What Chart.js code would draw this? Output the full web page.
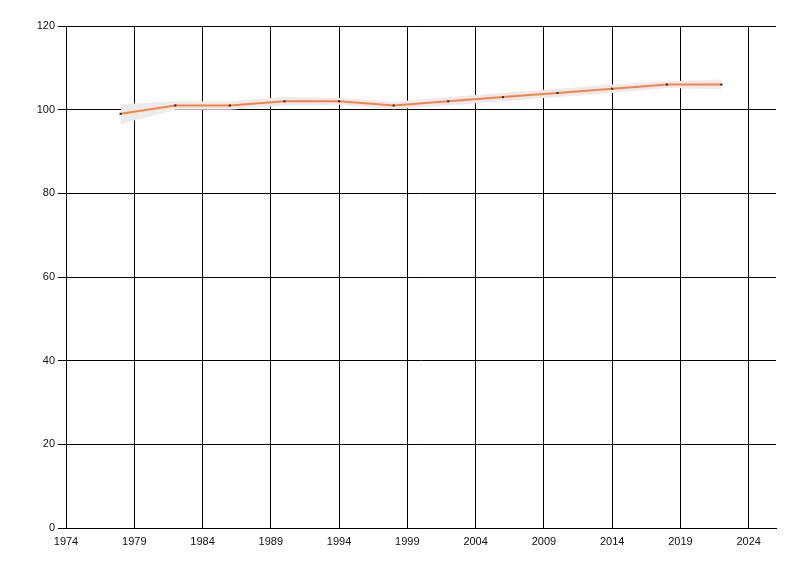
<!DOCTYPE html>
<html>
<head>
<meta charset="utf-8">
<script src="https://cdn.jsdelivr.net/npm/chart.js@4/dist/chart.umd.min.js"></script>
<style>
html,body{margin:0;padding:0;background:#fff;}
canvas{display:block;}
</style>
</head>
<body>
<canvas id="c" width="800" height="576"></canvas>
<script>
const years = [1978, 1982, 1986, 1990, 1994, 1998, 2002, 2006, 2010, 2014, 2018, 2022];
const values = [99, 101, 101, 102, 102, 101, 102, 103, 104, 105, 106, 106];
const upper = [101.3, 102.0, 102.0, 103.0, 102.8, 101.9, 103.0, 104.0, 105.0, 106.0, 106.8, 107.2];
const lower = [96.6, 100.0, 100.0, 101.0, 101.2, 100.1, 101.0, 102.0, 103.0, 104.0, 105.2, 104.9];
const xTicks = [1974, 1979, 1984, 1989, 1994, 1999, 2004, 2009, 2014, 2019, 2024];
const yTicks = [0, 20, 40, 60, 80, 100, 120];

const pts = arr => years.map((y, i) => ({x: y, y: arr[i]}));
const font = {family: '"Liberation Sans", Arial, sans-serif', size: 11};

new Chart(document.getElementById('c'), {
  type: 'line',
  data: {
    datasets: [
      {
        data: pts(values),
        borderColor: '#FF7F45',
        borderWidth: 2,
        tension: 0,
        pointStyle: 'rect',
        pointRadius: 1.5,
        pointBackgroundColor: '#333',
        pointBorderWidth: 0,
        fill: false,
        order: 0
      },
      {
        data: pts(upper),
        borderWidth: 0,
        borderColor: 'rgba(0,0,0,0)',
        backgroundColor: '#EBEBEB',
        pointRadius: 0,
        fill: '+1',
        tension: 0,
        order: 1
      },
      {
        data: pts(lower),
        borderWidth: 0,
        borderColor: 'rgba(0,0,0,0)',
        pointRadius: 0,
        fill: false,
        tension: 0,
        order: 2
      }
    ]
  },
  options: {
    responsive: false,
    animation: false,
    devicePixelRatio: 1,
    layout: {padding: {left: 0, top: 26, right: 24, bottom: 0}},
    plugins: {legend: {display: false}, tooltip: {enabled: false}},
    scales: {
      x: {
        type: 'linear',
        min: 1974,
        max: 2026,
        afterBuildTicks: s => { s.ticks = xTicks.map(v => ({value: v})); },
        afterFit: s => { s.height = 48; },
        grid: {color: '#000', lineWidth: 1, drawTicks: false},
        border: {color: '#000', width: 1},
        ticks: {color: '#111', font: font, padding: 7, maxRotation: 0, autoSkip: false,
                callback: v => String(v)}
      },
      y: {
        min: 0,
        max: 120,
        afterBuildTicks: s => { s.ticks = yTicks.map(v => ({value: v})); },
        afterFit: s => { s.width = 66; },
        grid: {color: '#000', lineWidth: 1, tickLength: 8},
        border: {color: '#000', width: 1},
        ticks: {color: '#111', font: font, padding: 3, callback: v => String(v)}
      }
    }
  }
});
</script>
</body>
</html>
